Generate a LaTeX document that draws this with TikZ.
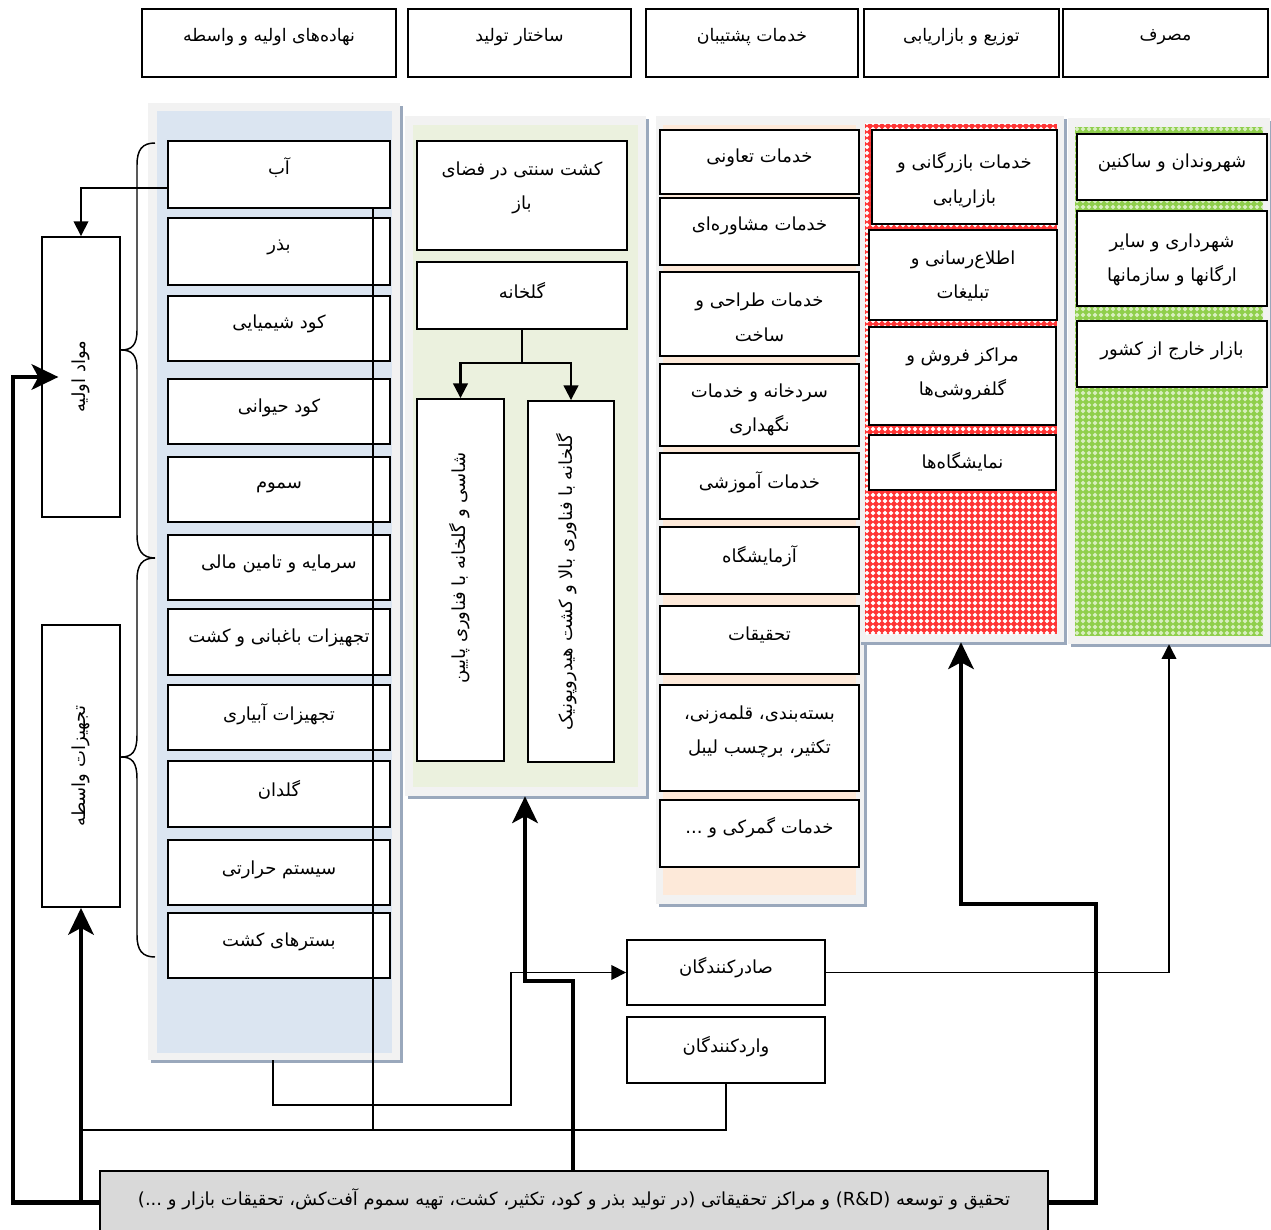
\documentclass[tikz,border=0pt]{standalone}
\usepackage{fontspec}
\usetikzlibrary{arrows.meta,fit,patterns,shadows,calc}
\newfontfamily\fa[Script=Arabic]{DejaVu Sans}
\TeXXeTstate=1
\newcommand\RLtext[1]{\beginR#1\endR}
\definecolor{pgray}{HTML}{F2F2F2}
\definecolor{pshadow}{HTML}{9AA8BC}
\definecolor{pblue}{HTML}{DBE5F1}
\definecolor{pgreen}{HTML}{EBF1DE}
\definecolor{ppeach}{HTML}{FDE9D9}
\definecolor{pred}{HTML}{FF3535}
\definecolor{plime}{HTML}{8FCF4C}
\definecolor{rdgray}{HTML}{D9D9D9}
\pgfdeclarepatternformonly{wdiam}{\pgfqpoint{-0.1pt}{-0.1pt}}{\pgfqpoint{4.6pt}{4.6pt}}{\pgfqpoint{4.5pt}{4.5pt}}{%
 \pgfpathmoveto{\pgfqpoint{2.25pt}{0.5pt}}\pgfpathlineto{\pgfqpoint{4pt}{2.25pt}}\pgfpathlineto{\pgfqpoint{2.25pt}{4pt}}\pgfpathlineto{\pgfqpoint{0.5pt}{2.25pt}}\pgfpathclose\pgfusepath{fill}}
\tikzset{
 box/.style={draw=black, line width=1.4pt, fill=white, inner sep=0pt},
 txt/.style={font=\fa\fontsize{13.5}{26}\selectfont, align=center, inner sep=0pt},
 htxt/.style={font=\fa\fontsize{13}{26}\selectfont, align=center, inner sep=0pt},
 panel/.style={fill=pgray, inner sep=0pt, general shadow={fill=pshadow, shadow xshift=2.2pt, shadow yshift=-2.2pt}},
 innerp/.style={inner sep=0pt},
 thinc/.style={line width=1.1pt},
 medc/.style={line width=1.6pt},
 thickc/.style={line width=3.5pt},
 tri/.style={-{Triangle[length=11pt,width=11pt]}},
 bigarr/.style={-{Stealth[length=20pt,width=19pt,inset=5pt]}},
}
\newcommand\BX[7]{\node[box, fit={(#2,#3) (#4,#5)}] (#1) {};
 \node[txt] (#1t) at ({(#2+#4)/2},#6) {#7};}
\newcommand\HB[6]{\node[box, fit={(#2,#3) (#4,#5)}] (#1) {};
 \node[htxt] (#1t) at ({(#2+#4)/2},37) {#6};}
\begin{document}
\begin{tikzpicture}[x=0.75pt,y=-0.75pt]
\useasboundingbox (0,0) rectangle (1271,1230);
% header
\HB{h1}{142}{9}{396}{77}{\RLtext{نهاده‌های اولیه و واسطه}}
\HB{h2}{408}{9}{631}{77}{\RLtext{ساختار تولید}}
\HB{h3}{646}{9}{858}{77}{\RLtext{خدمات پشتیبان}}
\HB{h4}{864}{9}{1059}{77}{\RLtext{توزیع و بازاریابی}}
\HB{h5}{1063}{9}{1268}{77}{\RLtext{مصرف}}
% panels
\node[panel, fit={(148,103) (400,1060)}] (p1) {};
\node[innerp, fill=pblue, fit={(157,111) (392,1053)}] (p1i) {};
\node[panel, fit={(405,116) (646,796)}] (p2) {};
\node[innerp, fill=pgreen, fit={(413,125) (638,787)}] (p2i) {};
\node[panel, fit={(656,116) (864,904)}] (p3) {};
\node[innerp, fill=ppeach, fit={(663,125) (856,895)}] (p3i) {};
\node[panel, fit={(858,116) (1064,642)}] (p4) {};
\node[innerp, fill=pred, postaction={pattern=wdiam, pattern color=white}, fit={(865,124) (1057,634)}] (p4i) {};
\node[panel, fit={(1068,118) (1270,644)}] (p5) {};
\node[innerp, fill=plime, postaction={pattern=wdiam, pattern color=white!65!plime}, fit={(1075,127) (1263,636)}] (p5i) {};
% column 1
\BX{ab}{168}{141}{390}{208}{168}{\RLtext{آب}}
\BX{bazr}{168}{218}{390}{285}{247}{\RLtext{بذر}}
\BX{kshim}{168}{296}{390}{361}{324}{\RLtext{کود شیمیایی}}
\BX{khey}{168}{379}{390}{444}{408}{\RLtext{کود حیوانی}}
\BX{somum}{168}{457}{390}{522}{487}{\RLtext{سموم}}
\BX{sarm}{168}{535}{390}{600}{564}{\RLtext{سرمایه و تامین مالی}}
\BX{tbag}{168}{609}{390}{675}{638}{\RLtext{تجهیزات باغبانی و کشت}}
\BX{tabi}{168}{685}{390}{750}{714}{\RLtext{تجهیزات آبیاری}}
\BX{goldan}{168}{761}{390}{827}{790}{\RLtext{گلدان}}
\BX{sist}{168}{840}{390}{905}{870}{\RLtext{سیستم حرارتی}}
\BX{bast}{168}{913}{390}{978}{942}{\RLtext{بسترهای کشت}}
% left boxes
\node[box, fit={(42,237) (120,517)}] (mavad) {};
\node[txt, rotate=90] (mavadt) at (81,377) {\RLtext{مواد اولیه}};
\node[box, fit={(42,625) (120,907)}] (tajhiz) {};
\node[txt, rotate=90] (tajhizt) at (81,766) {\RLtext{تجهیزات واسطه}};
% braces
\draw[line width=1.1pt] (155,143) .. controls (142,143) and (137,150) .. (137,165) -- (137,330) .. controls (137,345) and (132,350) .. (121,350) .. controls (132,350) and (137,355) .. (137,370) -- (137,535) .. controls (137,550) and (142,558) .. (155,558);
\draw[line width=1.1pt] (155,558) .. controls (142,558) and (137,565) .. (137,580) -- (137,735) .. controls (137,752) and (132,757) .. (121,757) .. controls (132,757) and (137,762) .. (137,779) -- (137,935) .. controls (137,950) and (142,957) .. (155,957);
% column 2
\BX{kesht}{417}{141}{627}{250}{188}{\RLtext{کشت سنتی در فضای}\\\RLtext{باز}}
\BX{golk}{417}{262}{627}{329}{290}{\RLtext{گلخانه}}
\node[box, fit={(417,399) (504,761)}] (lowb) {};
\node[txt, rotate=90] (lowbt) at (460,568) {\RLtext{شاسی و گلخانه با فناوری پایین}};
\node[box, fit={(528,401) (614,762)}] (highb) {};
\node[txt, rotate=90] (highbt) at (567,582) {\RLtext{گلخانه با فناوری بالا و کشت هیدروپونیک}};
% column 3
\BX{taavon}{660}{130}{859}{194}{158}{\RLtext{خدمات تعاونی}}
\BX{moshaver}{660}{198}{859}{265}{226}{\RLtext{خدمات مشاوره‌ای}}
\BX{tarahi}{660}{272}{859}{356}{317}{\RLtext{خدمات طراحی و}\\\RLtext{ساخت}}
\BX{sard}{660}{364}{859}{446}{410}{\RLtext{سردخانه و خدمات}\\\RLtext{نگهداری}}
\BX{amuz}{660}{453}{859}{519}{482}{\RLtext{خدمات آموزشی}}
\BX{azma}{660}{527}{859}{594}{556}{\RLtext{آزمایشگاه}}
\BX{tahghigh}{660}{606}{859}{674}{635}{\RLtext{تحقیقات}}
\BX{baste}{660}{685}{859}{791}{732}{\RLtext{بسته‌بندی، قلمه‌زنی،}\\\RLtext{تکثیر، برچسب لیبل}}
\BX{gomrok}{660}{800}{859}{867}{828}{\RLtext{خدمات گمرکی و ...}}
% column 4
\BX{bazargani}{872}{130}{1057}{224}{180}{\RLtext{خدمات بازرگانی و}\\\RLtext{بازاریابی}}
\BX{etela}{869}{230}{1057}{320}{276}{\RLtext{اطلاع‌رسانی و}\\\RLtext{تبلیغات}}
\BX{marakez}{869}{327}{1056}{425}{374}{\RLtext{مراکز فروش و}\\\RLtext{گلفروشی‌ها}}
\BX{namayesh}{869}{435}{1056}{490}{462}{\RLtext{نمایشگاه‌ها}}
% column 5
\BX{shahrvand}{1077}{134}{1267}{200}{163}{\RLtext{شهروندان و ساکنین}}
\BX{shahrdari}{1077}{211}{1267}{306}{260}{\RLtext{شهرداری و سایر}\\\RLtext{ارگانها و سازمانها}}
\BX{bazar}{1077}{321}{1267}{387}{351}{\RLtext{بازار خارج از کشور}}
% traders
\BX{sader}{627}{940}{825}{1005}{968}{\RLtext{صادرکنندگان}}
\BX{vared}{627}{1017}{825}{1083}{1047}{\RLtext{واردکنندگان}}
% R&D
\node[box, fill=rdgray, fit={(100,1171) (1048,1234)}] (rd) {};
\node[txt] (rdt) at (574,1199) {\RLtext{تحقیق و توسعه (\beginL R\&D\endL) و مراکز تحقیقاتی (در تولید بذر و کود، تکثیر، کشت، تهیه سموم آفت‌کش، تحقیقات بازار و ...)}};
% connectors
\draw[thinc,tri] ([yshift=-10pt]ab.west) -| (mavad.north);
\coordinate (j1) at (373,1130);
\coordinate (j2) at (81,1130);
\draw[thinc] (ab.south -| j1) -- (j1);
\draw[thinc] (j2) -| (vared.south);
\coordinate (m1) at (273,1105);
\coordinate (m2) at (511,1105);
\draw[thinc,tri] (p1.south -| m1) -- (m1) -- (m2) |- (sader.west);
\draw[thinc,tri] (sader.east) -| (p5.south);
\coordinate (g1) at (522,363);
\draw[medc] (golk.south) -- (g1);
\draw[medc,tri] (g1) -| (lowb.north);
\draw[medc,tri] (g1) -| (highb.north);
\draw[thickc,bigarr] (rd.west) -| (tajhiz.south);
\coordinate (k1) at (13,1202);
\draw[thickc,bigarr] (rd.west) -- (rd.west -| k1) |- ([xshift=13pt]mavad.west);
\coordinate (n1) at (573,981);
\coordinate (n2) at (525,981);
\draw[thickc,bigarr] (rd.north -| n1) -- (n1) -- (n2) -- (n2 |- p2.south);
\coordinate (r1) at (1096,904);
\draw[thickc,bigarr] (rd.east) -| (r1) -| (p4.south);
\end{tikzpicture}
\end{document}
